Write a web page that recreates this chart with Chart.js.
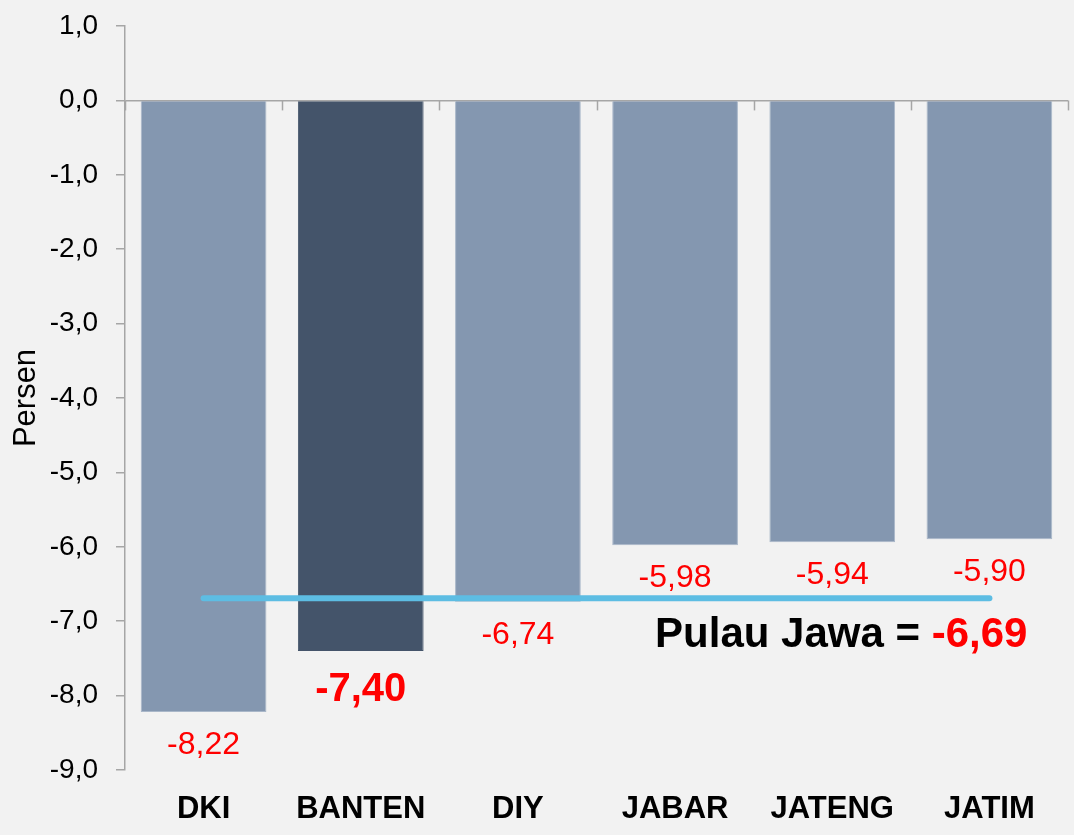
<!DOCTYPE html>
<html>
<head>
<meta charset="utf-8">
<script src="https://cdn.jsdelivr.net/npm/chart.js@4/dist/chart.umd.min.js"></script>
<style>
  html, body { margin: 0; padding: 0; background: #F2F2F2; }
  #wrap { width: 1074px; height: 835px; }
</style>
</head>
<body>
<div id="wrap"><canvas id="c" width="1074" height="835"></canvas></div>
<script>
const categories = ['DKI', 'BANTEN', 'DIY', 'JABAR', 'JATENG', 'JATIM'];
const growth = [-8.22, -7.40, -6.74, -5.98, -5.94, -5.90];
const javaAverage = [-6.69, -6.69, -6.69, -6.69, -6.69, -6.69];
const javaAverageLabel = '-6,69';
const highlightIndex = 1;
const yTicks = { min: -9, max: 1, step: 1 };

const FONT = "'Liberation Sans', Arial, sans-serif";
const barColors = categories.map((c, i) => i === highlightIndex ? '#44546A' : '#8497B0');
const barBorders = categories.map((c, i) => i === highlightIndex ? '#44546A' : '#A9B7C9');
const fmt = v => v.toFixed(2).replace('.', ',');

const labelPlugin = {
  id: 'labels',
  afterDatasetsDraw(chart) {
    const ctx = chart.ctx;
    const meta = chart.getDatasetMeta(0);
    ctx.save();
    ctx.textAlign = 'center';
    ctx.textBaseline = 'middle';
    meta.data.forEach((bar, i) => {
      const big = i === highlightIndex;
      ctx.font = (big ? 'bold 40px ' : '32px ') + FONT;
      ctx.fillStyle = '#FF0000';
      ctx.fillText(fmt(growth[i]), bar.x, bar.y + (big ? 39 : 33));
    });
    // category tick marks on zero line
    const xs = chart.scales.x, ys = chart.scales.y;
    const y0 = ys.getPixelForValue(0);
    ctx.strokeStyle = '#A6A6A6';
    ctx.lineWidth = 1.5;
    for (let i = 0; i <= categories.length; i++) {
      const x = Math.round(xs.getPixelForValue(i - 0.5)) + 0.5;
      ctx.beginPath();
      ctx.moveTo(x, y0);
      ctx.lineTo(x, y0 + 10);
      ctx.stroke();
    }
    // Pulau Jawa label
    const lineMeta = chart.getDatasetMeta(1);
    const last = lineMeta.data[lineMeta.data.length - 1];
    const right = last.x + 38;
    const ty = last.y + 37;
    ctx.font = 'bold 42px ' + FONT;
    ctx.textAlign = 'left';
    const p1 = 'Pulau Jawa = ';
    const w1 = ctx.measureText(p1).width;
    const w2 = ctx.measureText(javaAverageLabel).width;
    const start = right - w1 - w2;
    ctx.fillStyle = '#000000';
    ctx.fillText(p1, start, ty);
    ctx.fillStyle = '#FF0000';
    ctx.fillText(javaAverageLabel, start + w1, ty);
    ctx.restore();
  }
};

new Chart(document.getElementById('c'), {
  data: {
    labels: categories,
    datasets: [
      {
        type: 'bar',
        data: growth,
        backgroundColor: barColors,
        borderColor: barBorders,
        borderWidth: 1,
        categoryPercentage: 0.8,
        barPercentage: 1.0,
        order: 2
      },
      {
        type: 'line',
        data: javaAverage,
        borderColor: '#5DBDE3',
        borderWidth: 6,
        borderCapStyle: 'round',
        pointRadius: 0,
        pointHoverRadius: 0,
        fill: false,
        order: 1
      }
    ]
  },
  options: {
    responsive: false,
    animation: false,
    events: [],
    layout: { padding: { top: 26, right: 6, left: 0, bottom: 0 } },
    plugins: { legend: { display: false }, tooltip: { enabled: false } },
    scales: {
      x: {
        grid: { display: false },
        border: { display: false },
        ticks: { color: '#000', font: { family: FONT, size: 31, weight: 'bold' }, padding: 13 },
        afterFit(s) { s.height = 65; }
      },
      y: {
        min: yTicks.min,
        max: yTicks.max,
        ticks: {
          stepSize: yTicks.step,
          color: '#000',
          font: { family: FONT, size: 28 },
          padding: 18,
          callback: v => v.toFixed(1).replace('.', ',')
        },
        grid: {
          color: c => (c.tick && c.tick.value === 0) ? '#A6A6A6' : 'rgba(0,0,0,0)',
          lineWidth: 1.5,
          tickColor: '#A6A6A6',
          tickLength: 9
        },
        border: { display: true, color: '#A6A6A6', width: 1.5 },
        title: {
          display: true,
          text: 'Persen',
          color: '#000',
          font: { family: FONT, size: 31 },
          padding: { top: 8, bottom: 0 }
        },
        afterFit(s) { s.width = 125; s.paddingTop = 0; s.paddingBottom = 0; }
      }
    }
  },
  plugins: [labelPlugin]
});
</script>
</body>
</html>
